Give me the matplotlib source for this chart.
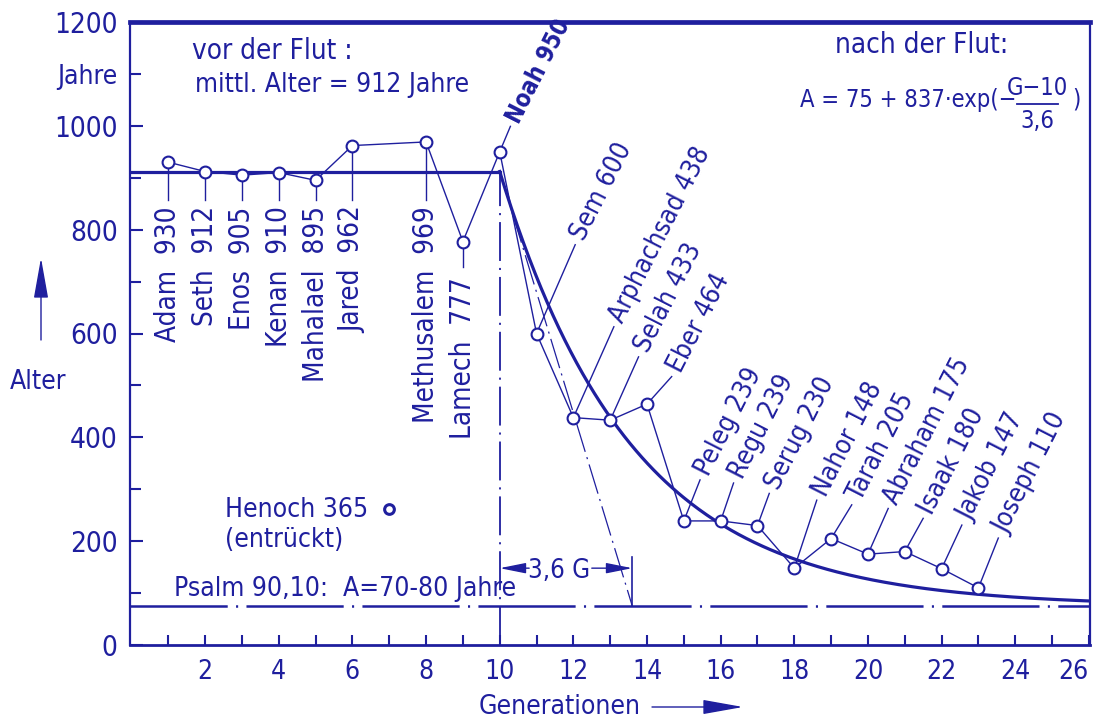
import numpy as np
import matplotlib
matplotlib.use("Agg")
import matplotlib.pyplot as plt
from matplotlib import font_manager

blau = "#1f1f9e"

# schmale Schrift suchen, sonst Liberation Sans
schrift, breite = "Liberation Sans", "normal"
for f in font_manager.fontManager.ttflist:
    if any(k in f.fname for k in ("Narrow", "Condensed", "Cond")) and "Bold" not in f.fname:
        schrift, breite = f.name, f.stretch
        break
plt.rcParams["font.family"] = [schrift, "DejaVu Sans"]
plt.rcParams["font.stretch"] = breite
plt.rcParams["lines.scale_dashes"] = False
plt.rcParams["text.color"] = blau
schmal = schrift != "Liberation Sans"
fs = 20 if schmal else 17.5

# vor der Flut (Henoch extra)
vor_namen = ["Adam", "Seth", "Enos", "Kenan", "Mahalael", "Jared", "Methusalem", "Lamech", "Noah"]
vor_gen = [1, 2, 3, 4, 5, 6, 8, 9, 10]
vor_alter = [930, 912, 905, 910, 895, 962, 969, 777, 950]
henoch_gen = 7
henoch_alter = 365
mittel_vor = 912

# nach der Flut
nach_namen = ["Sem", "Arphachsad", "Selah", "Eber", "Peleg", "Regu", "Serug",
              "Nahor", "Tarah", "Abraham", "Isaak", "Jakob", "Joseph"]
nach_gen = [11, 12, 13, 14, 15, 16, 17, 18, 19, 20, 21, 22, 23]
nach_alter = [600, 438, 433, 464, 239, 239, 230, 148, 205, 175, 180, 147, 110]

# A = 75 + 837*exp(-(G-10)/3.6)
fit_a, fit_b, fit_g0, fit_tau = 75, 837, 10, 3.6
psalm = 75

# wo die Beschriftungen sitzen (Ende der Hinweislinien)
leit_x = [12.05, 13.1, 13.77, 14.67, 15.44, 16.35, 17.32, 18.61, 19.56, 20.55, 21.5, 22.55, 23.54]
leit_y = [771, 613, 555, 517, 318, 312, 292, 279, 270, 263, 244, 231, 206]

fig = plt.figure(figsize=(10.94, 7.19), dpi=100)
ax = fig.add_axes([130 / 1094, 74 / 719, 960 / 1094, 623 / 719])
ax.set_xlim(-0.04, 26.03)
ax.set_ylim(0, 1200)

for s, lw in [("top", 3.4), ("left", 1.6), ("bottom", 2.0), ("right", 1.6)]:
    ax.spines[s].set_linewidth(lw)
    ax.spines[s].set_color(blau)

ax.set_yticks(range(0, 1201, 200))
ax.set_yticks(range(100, 1200, 200), minor=True)
ax.set_yticklabels([str(v) for v in range(0, 1201, 200)], fontsize=fs)
ax.set_yticklabels(["", "", "", "", "", "Jahre"], minor=True, fontsize=fs - 1)
ax.set_xticks(range(2, 27, 2))
ax.set_xticks(range(1, 26, 2), minor=True)
xlabels = ax.set_xticklabels([str(v) for v in range(2, 27, 2)], fontsize=fs - 1)
xlabels[-1].set_horizontalalignment("right")
ax.tick_params(which="both", direction="in", color=blau, labelcolor=blau, width=1.5)
ax.tick_params(axis="y", which="major", length=9, pad=9)
ax.tick_params(axis="y", which="minor", length=8, pad=9)
ax.tick_params(axis="x", which="both", length=7, pad=10)

# Mittelwert vor der Flut und Ausgleichskurve
ax.plot([0, fit_g0], [mittel_vor, mittel_vor], color=blau, lw=2.3, zorder=3)
g = np.linspace(fit_g0, 26.03, 300)
ax.plot(g, fit_a + fit_b * np.exp(-(g - fit_g0) / fit_tau), color=blau, lw=2.3, zorder=3)

# Tangente, Psalm-Linie, Flut-Linie
strichpunkt = (0, (70, 6, 1.5, 6))
ax.plot([-0.04, 26.03], [psalm, psalm], color=blau, lw=1.8, linestyle=strichpunkt, zorder=2)
ax.plot([fit_g0, fit_g0 + fit_tau], [mittel_vor, psalm], color=blau, lw=0.9,
        linestyle=(0, (22, 4, 1.5, 4)), zorder=2)
ax.plot([fit_g0, fit_g0], [0, mittel_vor], color=blau, lw=1.3,
        linestyle=(0, (28, 5, 1.5, 5)), zorder=2)

# Verbindungslinie aller Lebensalter
alle_gen = vor_gen + nach_gen
alle_alter = vor_alter + nach_alter
ax.plot(alle_gen, alle_alter, color=blau, lw=1.0, zorder=4)

# Hinweislinien vor der Flut
for name, x, y in zip(vor_namen, vor_gen, vor_alter):
    if name == "Noah":
        ax.plot([x, x + 0.29], [y, 999], color=blau, lw=1.0, zorder=4)
        ax.annotate(f"{name} {y}", (x + 0.29, 999), xytext=(1.5, 3), textcoords="offset points",
                    rotation=63, rotation_mode="anchor", ha="left", va="center",
                    fontsize=fs - 3, fontweight="bold")
        continue
    unten, oben = (728, 709) if name == "Lamech" else (857, 845)
    ax.plot([x, x], [y, unten], color=blau, lw=1.0, zorder=4)
    ax.text(x, oben, f"{name}  {y}", rotation=90, ha="center", va="top", fontsize=fs)

# Hinweislinien nach der Flut
for name, x, y, lx, ly in zip(nach_namen, nach_gen, nach_alter, leit_x, leit_y):
    ax.plot([x, lx], [y, ly], color=blau, lw=1.0, zorder=4)
    ax.annotate(f"{name} {y}", (lx, ly), xytext=(2, 4), textcoords="offset points",
                rotation=63, rotation_mode="anchor", ha="left", va="center", fontsize=fs - 1)

ax.plot(alle_gen, alle_alter, "o", ms=8.5, mfc="white", mec=blau, mew=1.5, zorder=5)

# Henoch
ax.plot([henoch_gen], [262], "o", ms=7, mfc="white", mec=blau, mew=2.2, zorder=5)
ax.text(2.53, 260, f"Henoch {henoch_alter}", ha="left", va="center", fontsize=fs - 1)
ax.text(2.53, 202, "(entrückt)", ha="left", va="center", fontsize=fs - 1)

# Psalm
ax.text(1.16, 108, "Psalm 90,10:  A=70-80 Jahre", ha="left", va="center", fontsize=fs - 1)

# 3,6 G Bemaßung
ax.plot([fit_g0 + fit_tau] * 2, [psalm, 170], color=blau, lw=1.2)
ax.text(11.61, 143, "3,6 G", ha="center", va="center", fontsize=fs - 1.5)
pfeil = dict(arrowstyle="-|>,head_length=1.0,head_width=0.2", mutation_scale=16,
             color=blau, lw=1.0, shrinkA=0, shrinkB=0)
ax.annotate("", xy=(10, 148), xytext=(10.8, 148), arrowprops=pfeil)
ax.annotate("", xy=(13.6, 148), xytext=(12.5, 148), arrowprops=pfeil)

# Texte oben
ax.text(1.65, 1145, "vor der Flut :", ha="left", va="center", fontsize=fs)
ax.text(1.73, 1079, "mittl. Alter = 912 Jahre", ha="left", va="center", fontsize=fs - 1)
ax.text(19.1, 1156, "nach der Flut:", ha="left", va="center", fontsize=fs)

# Formel mit Bruch
ff = fs - 3
ax.text(24.02, 1050, "A = 75 + 837·exp(−", ha="right", va="center", fontsize=ff)
ax.text(24.6, 1072, "G−10", ha="center", va="center", fontsize=ff)
ax.text(24.6, 1010, "3,6", ha="center", va="center", fontsize=ff)
ax.plot([24.06, 25.16], [1042, 1042], color=blau, lw=1.3)
ax.text(25.55, 1050, ")", ha="left", va="center", fontsize=ff)

# Achsenbeschriftungen mit Pfeilen
fig.text(10 / 1094, 1 - 382 / 719, "Alter", ha="left", va="center", fontsize=fs - 1)
fig_pfeil = dict(arrowstyle="-|>,head_length=1.4,head_width=0.25", mutation_scale=18,
                 color=blau, lw=1.0, shrinkA=0, shrinkB=0)
ax.annotate("", xy=(41 / 1094, 1 - 258 / 719), xytext=(41 / 1094, 1 - 340 / 719),
            xycoords="figure fraction", textcoords="figure fraction", arrowprops=fig_pfeil)
fig.text(479 / 1094, 1 - 707 / 719, "Generationen", ha="left", va="center", fontsize=fs - 1)
ax.annotate("", xy=(743 / 1094, 1 - 707 / 719), xytext=(652 / 1094, 1 - 707 / 719),
            xycoords="figure fraction", textcoords="figure fraction", arrowprops=fig_pfeil)

fig.savefig("out.png", dpi=100)
